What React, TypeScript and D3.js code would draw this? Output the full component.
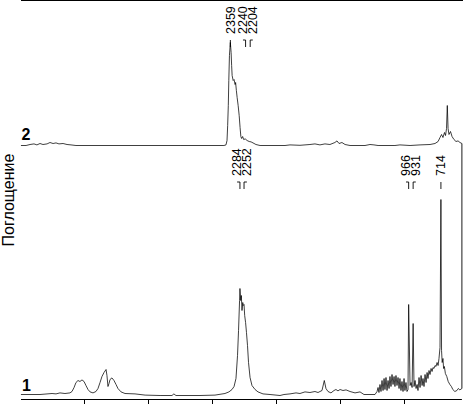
import React from "react";
import * as d3 from "d3";

// Wavenumber axis (cm-1) and tick values (no labels in the reference)
const xTicks = [3500, 3000, 2500, 2000, 1500, 1000];

// Spectrum 1 (lower trace): wavenumber, absorbance above its baseline
const wn1 = [3995, 3846, 3752, 3721, 3690, 3651, 3612, 3596, 3580, 3565, 3549, 3534, 3518, 3502, 3487, 3471, 3455, 3432, 3409, 3393, 3377, 3362, 3346, 3330, 3323, 3315, 3307, 3299, 3284, 3268, 3252, 3237, 3213, 3182, 3104, 3025, 2908, 2815, 2800, 2784, 2596, 2479, 2401, 2370, 2346, 2330, 2315, 2303, 2295, 2287, 2284, 2278, 2273, 2268, 2262, 2258, 2252, 2247, 2240, 2233, 2225, 2217, 2205, 2190, 2166, 2143, 2104, 2049, 1971, 1940, 1893, 1846, 1815, 1776, 1737, 1698, 1674, 1643, 1625, 1612, 1596, 1573, 1549, 1534, 1518, 1502, 1479, 1455, 1424, 1385, 1346, 1315, 1229, 1213, 1205, 1198, 1190, 1182, 1174, 1166, 1158, 1151, 1143, 1135, 1127, 1119, 1112, 1104, 1096, 1088, 1080, 1073, 1065, 1057, 1049, 1041, 1034, 1026, 1018, 1010, 1002, 995, 987, 979, 971, 966, 955, 947, 939, 931, 924, 916, 908, 900, 893, 885, 877, 869, 861, 854, 846, 838, 830, 822, 815, 807, 799, 791, 783, 776, 768, 760, 752, 744, 736, 729, 721, 714, 709, 704, 698, 693, 687, 679, 668, 657, 644, 632, 621, 605, 589, 578, 566, 550];
const ab1 = [0, 0, 0.005, 0.003, 0.008, 0.005, 0.008, 0.015, 0.035, 0.06, 0.07, 0.065, 0.073, 0.065, 0.045, 0.025, 0.013, 0.008, 0.015, 0.03, 0.06, 0.09, 0.11, 0.125, 0.095, 0.04, 0.055, 0.075, 0.083, 0.07, 0.05, 0.03, 0.013, 0.005, 0.003, -0.003, -0.005, -0.005, 0.003, -0.005, -0.005, -0.003, 0.005, 0.013, 0.025, 0.04, 0.08, 0.195, 0.32, 0.47, 0.53, 0.47, 0.495, 0.42, 0.46, 0.445, 0.45, 0.395, 0.36, 0.31, 0.245, 0.16, 0.085, 0.045, 0.025, 0.013, 0.003, 0, -0.005, 0, 0.003, 0.008, 0.005, 0.013, 0.01, 0.015, 0.01, 0.02, 0.07, 0.03, 0.015, 0.008, 0.02, 0.025, 0.018, 0.025, 0.02, 0.023, 0.015, 0.008, 0.013, 0, 0, 0.015, 0.035, 0.01, 0.05, 0.015, 0.07, 0.02, 0.08, 0.025, 0.085, 0.02, 0.07, 0.03, 0.09, 0.04, 0.1, 0.05, 0.09, 0.04, 0.095, 0.045, 0.085, 0.03, 0.08, 0.02, 0.065, 0.015, 0.08, 0.02, 0.06, 0.015, 0.025, 0.45, 0.045, 0.06, 0.035, 0.355, 0.04, 0.07, 0.03, 0.05, 0.02, 0.085, 0.035, 0.095, 0.045, 0.08, 0.04, 0.1, 0.06, 0.11, 0.08, 0.12, 0.1, 0.13, 0.115, 0.135, 0.13, 0.145, 0.14, 0.16, 0.145, 0.18, 0.235, 0.975, 0.22, 0.16, 0.18, 0.13, 0.14, 0.105, 0.09, 0.065, 0.05, 0.04, 0.025, 0.015, 0.02, 0.03, 0.023, 0.03];

// Spectrum 2 (upper trace)
const wn2 = [3995, 3955, 3924, 3893, 3870, 3846, 3823, 3791, 3768, 3744, 3721, 3698, 3666, 3635, 3604, 3565, 3221, 2752, 2409, 2393, 2385, 2380, 2375, 2371, 2366, 2359, 2353, 2349, 2345, 2337, 2330, 2322, 2318, 2312, 2306, 2298, 2290, 2283, 2277, 2271, 2263, 2255, 2243, 2228, 2212, 2197, 2182, 2159, 2127, 1932, 1893, 1815, 1737, 1698, 1659, 1620, 1581, 1542, 1526, 1510, 1487, 1463, 1424, 1307, 1268, 1237, 1205, 1073, 1034, 955, 877, 799, 760, 736, 721, 709, 698, 686, 678, 670, 664, 658, 651, 639, 627, 612, 596, 580, 565, 550];
const ab2 = [0, 0, 0.005, 0.008, 0.003, 0.01, 0.005, 0.008, 0.015, 0.01, 0.013, 0.008, 0.01, 0.005, 0.003, 0, 0, 0, 0, 0.003, 0.025, 0.1, 0.2, 0.325, 0.45, 0.515, 0.465, 0.4, 0.35, 0.325, 0.33, 0.305, 0.315, 0.275, 0.24, 0.2, 0.15, 0.09, 0.045, 0.035, 0.045, 0.03, 0.033, 0.025, 0.02, 0.018, 0.013, 0.005, 0, 0, 0.003, 0.001, 0.005, 0.008, 0.003, 0.008, 0.005, 0.015, 0.023, 0.01, 0.015, 0.005, 0, 0, 0.005, 0.003, 0, 0, 0.003, 0, 0.003, 0.005, 0.01, 0.02, 0.04, 0.055, 0.04, 0.065, 0.05, 0.085, 0.2, 0.085, 0.055, 0.07, 0.045, 0.03, 0.02, 0.023, 0.015, 0.01];

// Vertical offset of spectrum 2 above spectrum 1 (absorbance units)
const offset2 = 1.245;

// Peak annotations
const peaks1 = [2284, 2252, 966, 931, 714];
const peaks2 = [2359, 2240, 2204];

const W = 463;
const H = 404;
const FONT = "'Liberation Sans', Arial, Helvetica, sans-serif";

function spreadLabels(xs: number[], minGap: number): number[] {
  const out = xs.slice();
  let changed = true;
  let iter = 0;
  while (changed && iter < 50) {
    changed = false;
    iter++;
    for (let i = 0; i < out.length - 1; i++) {
      const gap = out[i + 1] - out[i];
      if (gap < minGap - 0.01) {
        const push = (minGap - gap) / 2;
        out[i] -= push;
        out[i + 1] += push;
        changed = true;
      }
    }
  }
  return out;
}

export default function App() {
  const x = d3.scaleLinear().domain([4000, 550]).range([20.3, 461.9]);
  const y = d3.scaleLinear().domain([-0.025, 1.97]).range([399.5, 0.5]);

  const line = d3
    .line<[number, number]>()
    .x((d) => x(d[0]))
    .y((d) => y(d[1]));

  const d1: [number, number][] = wn1.map((w, i) => [w, ab1[i]]);
  const d2: [number, number][] = wn2.map((w, i) => [w, ab2[i] + offset2]);

  const last1 = d1[d1.length - 1];
  const last2 = d2[d2.length - 1];

  const renderLabels = (peaks: number[], bottomY: number, key: string) => {
    const px = peaks.map((p) => x(p));
    const lx = spreadLabels(px, 9.8);
    const leadTop = bottomY + 6;
    const leadBot = bottomY + 13;
    return peaks.map((p, i) => (
      <g key={key + p}>
        <text
          transform={`translate(${lx[i] + 4.3},${bottomY}) rotate(-90)`}
          fontFamily={FONT}
          fontSize={12.5}
          fill="#000"
        >
          {String(p)}
        </text>
        <path
          d={`M${lx[i]},${leadTop}L${px[i]},${leadTop}L${px[i]},${leadBot}`}
          fill="none"
          stroke="#000"
          strokeWidth={0.9}
        />
      </g>
    ));
  };

  return (
    <svg
      width={W}
      height={H}
      style={{ position: "absolute", left: 0, top: 0, background: "#fff" }}
    >
      <rect x={0} y={0} width={W} height={H} fill="#fff" />
      {/* frame: top and bottom axis */}
      <line x1={x(4000) + 0.7} x2={W} y1={0.5} y2={0.5} stroke="#000" strokeWidth={1} />
      <line x1={x(4000) + 0.7} x2={x(550)} y1={399.5} y2={399.5} stroke="#000" strokeWidth={1} />
      {xTicks.map((t) => (
        <line
          key={t}
          x1={Math.round(x(t)) + 0.5}
          x2={Math.round(x(t)) + 0.5}
          y1={399.5}
          y2={404}
          stroke="#000"
          strokeWidth={1}
        />
      ))}
      {/* spectra */}
      <path d={line(d1) || ""} fill="none" stroke="#000" strokeWidth={0.75} />
      <path d={line(d2) || ""} fill="none" stroke="#000" strokeWidth={0.75} />
      <line
        x1={x(last1[0])}
        x2={x(last2[0])}
        y1={y(last1[1])}
        y2={y(last2[1])}
        stroke="#000"
        strokeWidth={0.9}
      />
      {/* peak labels */}
      {renderLabels(peaks2, 34, "p2")}
      {renderLabels(peaks1, 176, "p1")}
      {/* trace numbers */}
      <text x={22} y={391} fontFamily={FONT} fontSize={16} fontWeight="bold" fill="#000">
        1
      </text>
      <text x={21.5} y={140} fontFamily={FONT} fontSize={16} fontWeight="bold" fill="#000">
        2
      </text>
      {/* y-axis title */}
      <text
        transform={`translate(13.5,200) rotate(-90)`}
        textAnchor="middle"
        fontFamily={FONT}
        fontSize={16}
        fill="#000"
      >
        Поглощение
      </text>
    </svg>
  );
}
